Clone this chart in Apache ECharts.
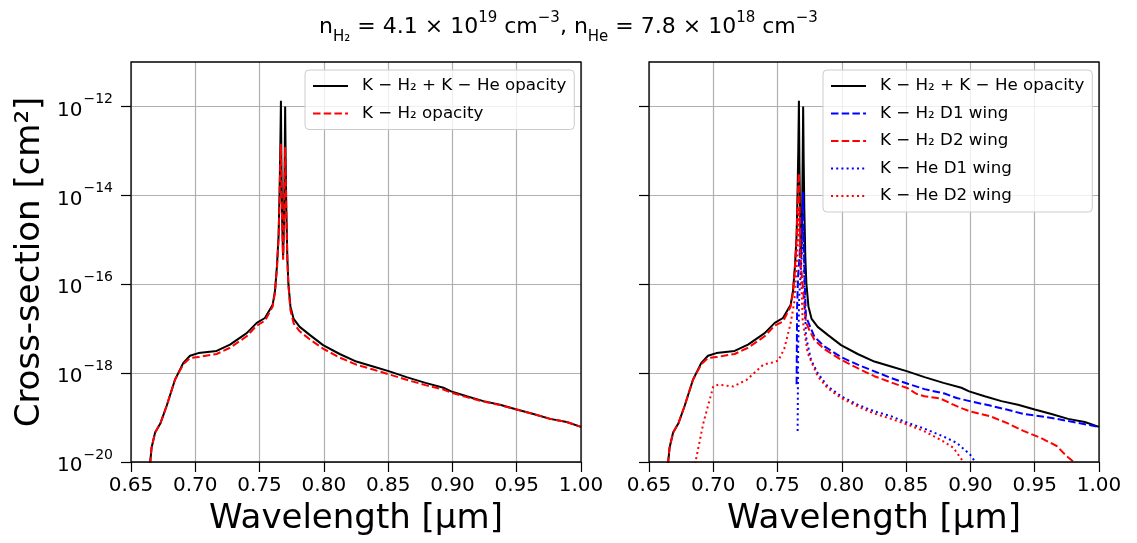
<!DOCTYPE html>
<html>
<head>
<meta charset="utf-8">
<script src="https://cdn.jsdelivr.net/npm/echarts@6/dist/echarts.min.js"></script>
<style>
html,body{margin:0;padding:0;background:#fff;}
#chart{width:1137px;height:543px;}
</style>
</head>
<body>
<div id="chart"></div>
<script>
// ---- data (wavelength in µm, log10 of cross-section in cm^2) ----
const xTicks = [0.65, 0.70, 0.75, 0.80, 0.85, 0.90, 0.95, 1.00];
const yTickExponents = [-20, -18, -16, -14, -12];

const wlTotal = [0.6648,0.6660,0.6687,0.6730,0.6777,0.6842,0.6907,0.6959,0.7024,0.7166,0.7270,0.7400,0.7478,0.7542,0.7602,0.7620,0.7635,0.7648,0.7655,0.7661,0.7666,0.7670,0.7676,0.7683,0.7690,0.7695,0.7699,0.7703,0.7708,0.7716,0.7724,0.7740,0.7765,0.7812,0.7890,0.7994,0.8123,0.8253,0.8383,0.8510,0.8643,0.8790,0.8930,0.8990,0.9111,0.9241,0.9370,0.9500,0.9630,0.9760,0.9889,1.0000];
const logTotal = [-20.05,-19.68,-19.34,-19.12,-18.74,-18.15,-17.77,-17.61,-17.55,-17.50,-17.36,-17.10,-16.87,-16.76,-16.46,-16.15,-15.60,-14.90,-14.00,-13.00,-11.87,-13.30,-14.60,-15.40,-14.60,-13.30,-12.00,-13.20,-14.30,-15.40,-15.98,-16.50,-16.78,-16.96,-17.14,-17.37,-17.57,-17.74,-17.85,-17.96,-18.09,-18.22,-18.33,-18.41,-18.52,-18.63,-18.71,-18.82,-18.92,-19.03,-19.10,-19.21];

const wlH2 = [0.6648,0.6660,0.6687,0.6730,0.6777,0.6842,0.6907,0.6959,0.7024,0.7166,0.7270,0.7400,0.7478,0.7542,0.7602,0.7620,0.7635,0.7648,0.7655,0.7661,0.7666,0.7670,0.7676,0.7683,0.7690,0.7695,0.7699,0.7703,0.7708,0.7716,0.7724,0.7740,0.7765,0.7812,0.7890,0.7994,0.8123,0.8253,0.8383,0.8510,0.8643,0.8790,0.8930,0.8990,0.9111,0.9241,0.9370,0.9500,0.9630,0.9760,0.9889,1.0000];
const logH2 = [-20.05,-19.68,-19.34,-19.12,-18.74,-18.15,-17.80,-17.66,-17.64,-17.57,-17.43,-17.17,-16.93,-16.82,-16.50,-16.18,-15.65,-14.95,-14.10,-13.30,-12.84,-13.60,-14.70,-15.45,-14.70,-13.60,-12.91,-13.50,-14.40,-15.45,-16.02,-16.58,-16.88,-17.06,-17.24,-17.45,-17.65,-17.81,-17.92,-18.03,-18.15,-18.27,-18.37,-18.44,-18.54,-18.64,-18.72,-18.82,-18.92,-19.03,-19.10,-19.21];

const wlH2D1 = [0.7648,0.7652,0.7660,0.7675,0.7690,0.7696,0.7699,0.7703,0.7710,0.7721,0.7786,0.7864,0.7994,0.8123,0.8253,0.8383,0.8513,0.8643,0.8799,0.8893,0.9023,0.9153,0.9282,0.9412,0.9542,0.9671,0.9800,1.0000];
const logH2D1 = [-18.25,-16.50,-15.80,-15.20,-14.60,-14.20,-13.92,-14.80,-15.90,-16.73,-17.18,-17.40,-17.64,-17.81,-17.96,-18.11,-18.24,-18.36,-18.46,-18.56,-18.65,-18.73,-18.82,-18.92,-18.97,-19.03,-19.10,-19.21];

const wlH2D2 = [0.6645,0.6660,0.6687,0.6730,0.6777,0.6842,0.6907,0.6959,0.7024,0.7166,0.7270,0.7400,0.7478,0.7542,0.7602,0.7620,0.7635,0.7648,0.7655,0.7661,0.7666,0.7670,0.7676,0.7683,0.7700,0.7720,0.7750,0.7786,0.7864,0.7994,0.8123,0.8253,0.8383,0.8513,0.8582,0.8643,0.8764,0.8867,0.8940,0.8997,0.9153,0.9282,0.9412,0.9542,0.9671,0.9749,0.9827];
const logH2D2 = [-20.05,-19.68,-19.34,-19.12,-18.74,-18.15,-17.80,-17.66,-17.64,-17.57,-17.43,-17.17,-16.93,-16.84,-16.50,-16.18,-15.65,-14.95,-14.20,-13.70,-13.50,-14.00,-14.90,-15.60,-16.20,-16.85,-17.05,-17.25,-17.46,-17.70,-17.89,-18.07,-18.21,-18.34,-18.47,-18.52,-18.57,-18.71,-18.80,-18.86,-18.97,-19.12,-19.30,-19.45,-19.64,-19.87,-20.05];

const wlHeD1 = [0.7656,0.7660,0.7668,0.7685,0.7699,0.7705,0.7712,0.7721,0.7760,0.7812,0.7890,0.7994,0.8123,0.8253,0.8383,0.8513,0.8643,0.8786,0.8893,0.8997,0.9049];
const logHeD1 = [-19.30,-17.50,-16.30,-15.50,-14.80,-15.50,-16.50,-17.18,-17.70,-18.00,-18.30,-18.52,-18.71,-18.86,-18.97,-19.12,-19.25,-19.42,-19.57,-19.83,-20.05];

const wlHeD2 = [0.6858,0.6923,0.7000,0.7040,0.7156,0.7260,0.7389,0.7460,0.7506,0.7552,0.7600,0.7630,0.7649,0.7660,0.7666,0.7675,0.7687,0.7695,0.7734,0.7812,0.7890,0.7994,0.8123,0.8253,0.8383,0.8513,0.8643,0.8786,0.8867,0.8958];
const logHeD2 = [-20.05,-19.12,-18.30,-18.26,-18.30,-18.15,-17.81,-17.76,-17.72,-17.45,-16.90,-16.40,-15.60,-14.80,-14.26,-15.50,-16.13,-16.80,-17.55,-18.07,-18.34,-18.56,-18.75,-18.91,-19.03,-19.16,-19.31,-19.53,-19.68,-20.05];

const NAME_TOTAL = 'K − H₂ + K − He opacity';
const NAME_H2 = 'K − H₂ opacity';
const NAME_H2D1 = 'K − H₂ D1 wing';
const NAME_H2D2 = 'K − H₂ D2 wing';
const NAME_HED1 = 'K − He D1 wing';
const NAME_HED2 = 'K − He D2 wing';

// ---- build ----
function pairs(wl, lg) { return wl.map((w, i) => [w, Math.pow(10, lg[i])]); }
const FONT = 'DejaVu Sans';
const yTickValues = yTickExponents.map(e => Math.pow(10, e));
function yLabel(v) {
  const e = Math.round(Math.log10(v));
  if (yTickExponents.indexOf(e) < 0) return '';
  return '{b|10}{s|' + String(e).replace('-', '−') + '}';
}
const yRich = {
  b: {fontFamily: FONT, fontSize: 20, color: '#000', lineHeight: 28, verticalAlign: 'bottom'},
  s: {fontFamily: FONT, fontSize: 14, color: '#000', lineHeight: 28, verticalAlign: 'top', padding: [0,0,0,1]}
};
function xAxisCfg(idx) {
  return {
    type: 'value', gridIndex: idx, min: xTicks[0], max: xTicks[xTicks.length-1], interval: 0.05,
    name: 'Wavelength [µm]', nameLocation: 'middle', nameGap: 40,
    nameTextStyle: {fontFamily: FONT, fontSize: 34, color: '#000'},
    axisLine: {show: false},
    axisTick: {show: true, length: 10, lineStyle: {color: '#000', width: 1.2}},
    splitLine: {show: true, lineStyle: {color: '#b0b0b0', width: 1.2}},
    axisLabel: {fontFamily: FONT, fontSize: 20, color: '#000', margin: 14,
      formatter: v => v.toFixed(2)}
  };
}
function yAxisCfg(idx, showLabels) {
  const c = {
    type: 'log', logBase: 10, gridIndex: idx, min: 1e-20, max: 1e-11, interval: 2,
    axisLine: {show: false},
    axisTick: {show: true, length: 10, customValues: yTickValues, lineStyle: {color: '#000', width: 1.2}},
    minorTick: {show: false},
    splitLine: {show: true, lineStyle: {color: '#b0b0b0', width: 1.2}},
    axisLabel: {show: showLabels, margin: 18, customValues: yTickValues, formatter: yLabel, rich: yRich}
  };
  if (showLabels) {
    c.name = 'Cross-section [cm²]';
    c.nameLocation = 'middle';
    c.nameGap = 84;
    c.nameTextStyle = {fontFamily: FONT, fontSize: 34, color: '#000'};
  }
  return c;
}
function lineSeries(name, xi, data, color, dash) {
  return {
    name: name, type: 'line', xAxisIndex: xi, yAxisIndex: xi, data: data,
    symbol: 'none', showSymbol: false, smooth: false, animation: false,
    lineStyle: {color: color, width: 2, type: dash},
    itemStyle: {color: color}
  };
}
const DASH = [7.5, 3.2];
const DOT = [2, 3.2];
const legendCommon = {
  orient: 'vertical', itemWidth: 35, itemHeight: 18, itemGap: 9.5,
  padding: [7, 8, 7, 7],
  backgroundColor: 'rgba(255,255,255,0.8)', borderColor: '#cccccc', borderWidth: 1, borderRadius: 4,
  itemStyle: {color: 'rgba(0,0,0,0)', borderColor: 'rgba(0,0,0,0)', borderWidth: 0, opacity: 0},
  textStyle: {fontFamily: FONT, fontSize: 16.7, color: '#000', lineHeight: 18, padding: [0,0,0,9]},
  selectedMode: false
};
const GRIDS = [{left: 131, top: 62, width: 450, height: 400}, {left: 649, top: 62, width: 450, height: 400}];
const option = {
  animation: false,
  backgroundColor: '#fff',
  title: {
    left: 'center', top: 2,
    text: '{n|n}{sub|H₂}{n| = 4.1 × 10}{sup|19}{n| cm}{sup|−3}{n|, n}{sub|He}{n| = 7.8 × 10}{sup|18}{n| cm}{sup|−3}',
    textStyle: {
      fontWeight: 'normal',
      rich: {
        n: {fontFamily: FONT, fontWeight: 'normal', fontSize: 22, color: '#000', lineHeight: 40, verticalAlign: 'middle'},
        sub: {fontFamily: FONT, fontWeight: 'normal', fontSize: 15, color: '#000', lineHeight: 40, verticalAlign: 'bottom', padding: [0,0,2,0]},
        sup: {fontFamily: FONT, fontWeight: 'normal', fontSize: 15, color: '#000', lineHeight: 40, verticalAlign: 'top', padding: [4,0,0,0]}
      }
    }
  },
  grid: GRIDS.map(g => Object.assign({show: false, containLabel: false}, g)),
  graphic: GRIDS.map(g => ({
    type: 'rect', z: 100, silent: true,
    shape: {x: g.left, y: g.top, width: g.width, height: g.height},
    style: {fill: 'none', stroke: '#000', lineWidth: 1.3}
  })),
  xAxis: [xAxisCfg(0), xAxisCfg(1)],
  yAxis: [yAxisCfg(0, true), yAxisCfg(1, false)],
  legend: [
    Object.assign({}, legendCommon, {left: 305, top: 70, data: [NAME_TOTAL, NAME_H2]}),
    Object.assign({}, legendCommon, {left: 823, top: 70, data: [NAME_TOTAL, NAME_H2D1, NAME_H2D2, NAME_HED1, NAME_HED2]})
  ],
  series: [
    lineSeries(NAME_TOTAL, 0, pairs(wlTotal, logTotal), '#000000', 'solid'),
    lineSeries(NAME_H2, 0, pairs(wlH2, logH2), '#ff0000', DASH),
    lineSeries(NAME_TOTAL, 1, pairs(wlTotal, logTotal), '#000000', 'solid'),
    lineSeries(NAME_H2D1, 1, pairs(wlH2D1, logH2D1), '#0000ff', DASH),
    lineSeries(NAME_H2D2, 1, pairs(wlH2D2, logH2D2), '#ff0000', DASH),
    lineSeries(NAME_HED1, 1, pairs(wlHeD1, logHeD1), '#0000ff', DOT),
    lineSeries(NAME_HED2, 1, pairs(wlHeD2, logHeD2), '#ff0000', DOT)
  ]
};
const chart = echarts.init(document.getElementById('chart'), null, {renderer: 'canvas'});
chart.setOption(option);
</script>
</body>
</html>
